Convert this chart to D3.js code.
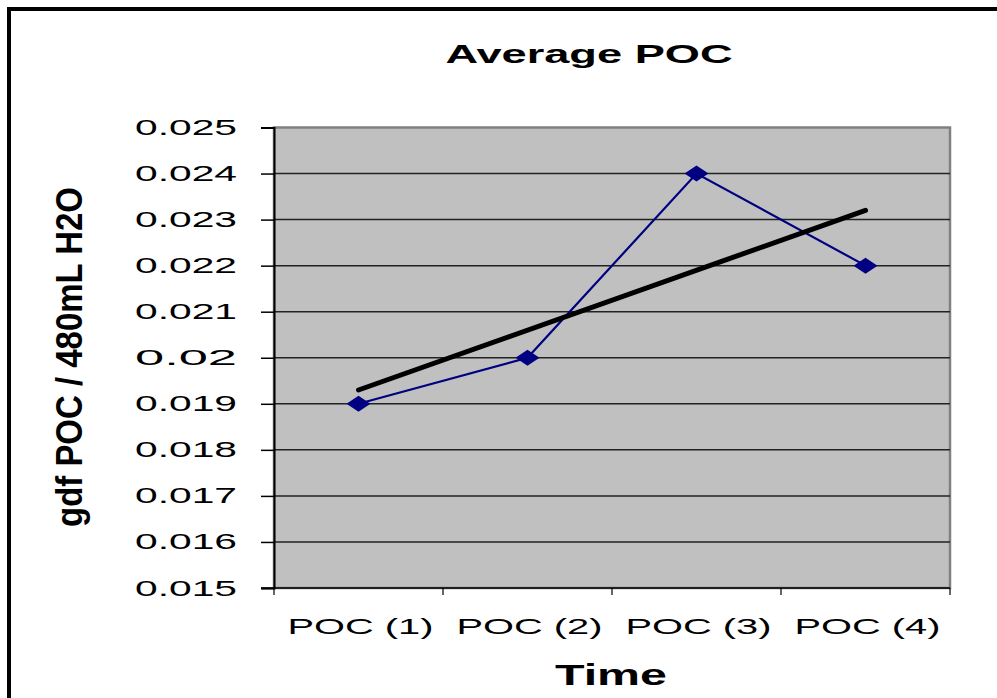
<!DOCTYPE html>
<html>
<head>
<meta charset="utf-8">
<script src="https://cdn.jsdelivr.net/npm/d3@7"></script>
<style>
  body { margin: 0; background: #fff; }
  text { font-family: Arial, "Liberation Sans", sans-serif; fill: #000; }
</style>
</head>
<body>
<div id="chart"></div>
<script>
// Chart data
const categories = ["POC (1)", "POC (2)", "POC (3)", "POC (4)"];
const pocValues = [0.019, 0.020, 0.024, 0.022];
// linear trendline (first and last category)
const trendValues = [0.0193, 0.0232];
const yTicks = [0.015, 0.016, 0.017, 0.018, 0.019, 0.020, 0.021, 0.022, 0.023, 0.024, 0.025];
const yTickLabels = ["0.015", "0.016", "0.017", "0.018", "0.019", "0.02", "0.021", "0.022", "0.023", "0.024", "0.025"];

const width = 997;
const height = 698;
const plot = {left: 274, top: 127.5, right: 950, bottom: 588};

const svg = d3.select("#chart")
    .append("svg")
    .attr("width", width)
    .attr("height", height);

// outer chart frame (runs off the right and bottom edges)
svg.append("rect")
    .attr("x", 9).attr("y", 9)
    .attr("width", 1000).attr("height", 720)
    .attr("fill", "#fff")
    .attr("stroke", "#000")
    .attr("stroke-width", 4);

const x = d3.scaleBand()
    .domain(categories)
    .range([plot.left, plot.right])
    .padding(0);

const y = d3.scaleLinear()
    .domain([0.015, 0.025])
    .range([plot.bottom, plot.top]);

// plot area
svg.append("rect")
    .attr("x", plot.left).attr("y", plot.top)
    .attr("width", plot.right - plot.left)
    .attr("height", plot.bottom - plot.top)
    .attr("fill", "#c0c0c0")
    .attr("stroke", "#808080")
    .attr("stroke-width", 2.5);

// gridlines
svg.append("g")
    .selectAll("line")
    .data(yTicks.slice(1, -1))
    .join("line")
    .attr("x1", plot.left).attr("x2", plot.right)
    .attr("y1", d => y(d)).attr("y2", d => y(d))
    .attr("stroke", "#222")
    .attr("stroke-width", 1.5);

// y axis
const yAxis = svg.append("g")
    .attr("transform", `translate(${plot.left},0)`)
    .call(d3.axisLeft(y).tickValues(yTicks).tickSize(13).tickFormat(""));
yAxis.select(".domain").attr("stroke", "#000").attr("stroke-width", 2);
yAxis.selectAll(".tick line").attr("stroke", "#000").attr("stroke-width", 1.5);

svg.append("g")
    .selectAll("text")
    .data(yTicks)
    .join("text")
    .attr("x", 237)
    .attr("y", d => y(d) + 7.5)
    .attr("text-anchor", "end")
    .attr("font-size", 22)
    .attr("textLength", 102)
    .attr("lengthAdjust", "spacingAndGlyphs")
    .text((d, i) => yTickLabels[i]);

// x axis
const xBounds = categories.map(c => x(c)).concat([plot.right]);
svg.append("line")
    .attr("x1", 261).attr("x2", plot.right)
    .attr("y1", plot.bottom).attr("y2", plot.bottom)
    .attr("stroke", "#000").attr("stroke-width", 1.5);
svg.append("g")
    .selectAll("line")
    .data(xBounds)
    .join("line")
    .attr("x1", d => d).attr("x2", d => d)
    .attr("y1", plot.bottom).attr("y2", plot.bottom + 7)
    .attr("stroke", "#000").attr("stroke-width", 1.2);

svg.append("g")
    .selectAll("text")
    .data(categories)
    .join("text")
    .attr("x", d => x(d) + x.bandwidth() / 2 + 2)
    .attr("y", 634)
    .attr("text-anchor", "middle")
    .attr("font-size", 22)
    .attr("textLength", 146)
    .attr("lengthAdjust", "spacingAndGlyphs")
    .text(d => d);

// series line
const cx = d => x(d) + x.bandwidth() / 2;
svg.append("path")
    .datum(pocValues)
    .attr("fill", "none")
    .attr("stroke", "#000080")
    .attr("stroke-width", 2.2)
    .attr("d", d3.line().x((d, i) => cx(categories[i])).y(d => y(d)));

// trendline
svg.append("path")
    .datum(trendValues)
    .attr("fill", "none")
    .attr("stroke", "#000")
    .attr("stroke-width", 5)
    .attr("stroke-linecap", "round")
    .attr("d", d3.line()
        .x((d, i) => cx(categories[i === 0 ? 0 : categories.length - 1]))
        .y(d => y(d)));

// diamond markers
svg.append("g")
    .selectAll("path")
    .data(pocValues)
    .join("path")
    .attr("transform", (d, i) => `translate(${cx(categories[i])},${y(d)})`)
    .attr("d", "M-12,0L0,-8L12,0L0,8Z")
    .attr("fill", "#000080");

// titles
svg.append("text")
    .attr("x", 589).attr("y", 63)
    .attr("text-anchor", "middle")
    .attr("font-size", 26)
    .attr("font-weight", "bold")
    .attr("textLength", 287)
    .attr("lengthAdjust", "spacingAndGlyphs")
    .text("Average POC");

svg.append("text")
    .attr("x", 611).attr("y", 685)
    .attr("text-anchor", "middle")
    .attr("font-size", 30)
    .attr("font-weight", "bold")
    .attr("textLength", 112)
    .attr("lengthAdjust", "spacingAndGlyphs")
    .text("Time");

svg.append("text")
    .attr("transform", "translate(82,357) rotate(-90)")
    .attr("text-anchor", "middle")
    .attr("font-size", 37)
    .attr("font-weight", "bold")
    .attr("textLength", 340)
    .attr("lengthAdjust", "spacingAndGlyphs")
    .text("gdf POC / 480mL H2O");
</script>
</body>
</html>
